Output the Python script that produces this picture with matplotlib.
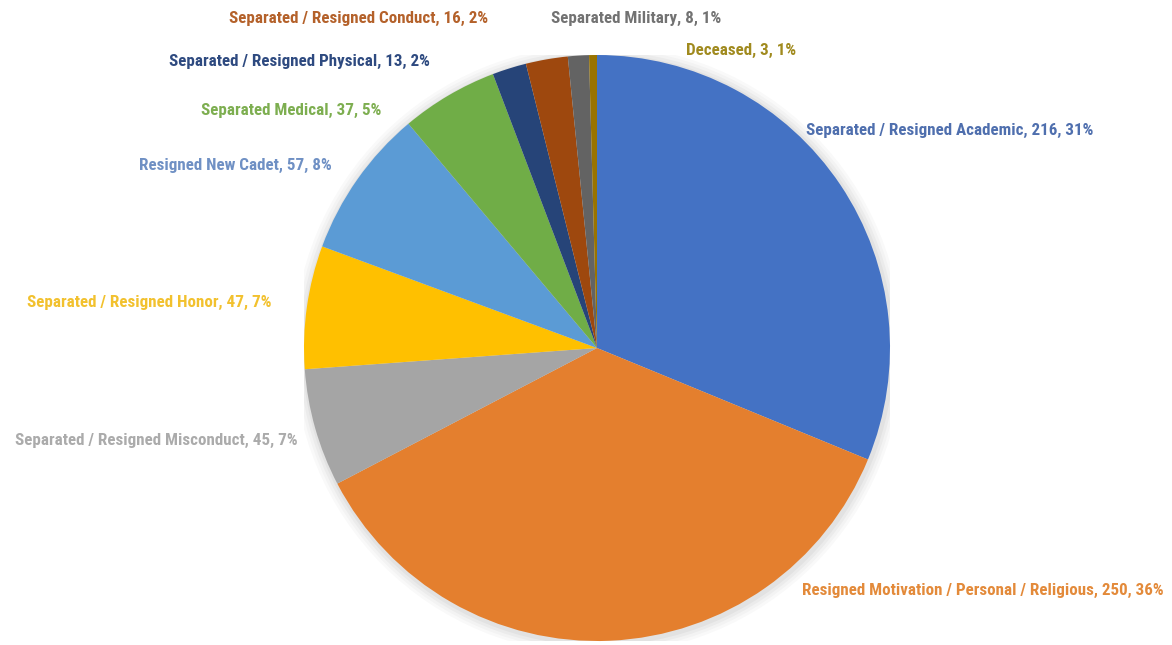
import matplotlib
matplotlib.use("Agg")
import matplotlib.pyplot as plt
from matplotlib import font_manager
from matplotlib.patches import Circle

categories = [
    "Separated / Resigned Academic",
    "Resigned Motivation / Personal / Religious",
    "Separated / Resigned Misconduct",
    "Separated / Resigned Honor",
    "Resigned New Cadet",
    "Separated Medical",
    "Separated / Resigned Physical",
    "Separated / Resigned Conduct",
    "Separated Military",
    "Deceased",
]
counts = [216, 250, 45, 47, 57, 37, 13, 16, 8, 3]
percent_labels = ["31%", "36%", "7%", "7%", "8%", "5%", "2%", "2%", "1%", "1%"]

slice_colors = ["#4472C4", "#E47F2E", "#A5A5A5", "#FFC000", "#5B9BD5",
                "#70AD47", "#264478", "#9E480E", "#636363", "#997300"]
label_colors = ["#4F6FAE", "#E38A3A", "#ABABAB", "#F2C12E", "#6F90C4",
                "#7DAE50", "#2E4A80", "#B4612A", "#727272", "#A08A1E"]
# label centres in pixel coordinates (x from left, y from top)
label_pos = [(950, 130), (983, 590), (156, 440), (149, 302), (235, 165),
             (291, 110), (299, 61), (359, 18), (636, 18), (741, 50)]

W, H = 1172, 645
fig = plt.figure(figsize=(W / 100, H / 100), dpi=100)
fig.patch.set_facecolor("white")

cx, cy, r = 597, 348, 293
ax = fig.add_axes([(cx - r) / W, (H - cy - r) / H, 2 * r / W, 2 * r / H])
ax.set_xlim(-1, 1)
ax.set_ylim(-1, 1)
ax.set_aspect("equal")
ax.axis("off")

# soft shadow behind the pie
for i, a in enumerate([0.025, 0.025, 0.03, 0.035]):
    ax.add_patch(Circle((0.004, -0.006), 1.0 + 0.01 * (4 - i), color="black",
                        alpha=a, lw=0, zorder=0))

ax.pie(counts, colors=slice_colors, startangle=90, counterclock=False,
       radius=1.0, wedgeprops=dict(linewidth=0, zorder=2))
ax.set_xlim(-1, 1)
ax.set_ylim(-1, 1)

names = {f.name for f in font_manager.fontManager.ttflist}
family = "DejaVu Sans"
for cand in ["Liberation Sans Narrow", "Arial Narrow", "Roboto Condensed",
             "Archivo Narrow", "PT Sans Narrow", "IBM Plex Sans Condensed",
             "Open Sans Condensed", "Roboto"]:
    if cand in names:
        family = cand
        break

# size the labels so a long label reads about the same width as drawn
renderer = fig.canvas.get_renderer()
probe = fig.text(0, 0, "Separated / Resigned Academic, 216, 31%", fontsize=12,
                 fontweight="bold", family=family)
pw = probe.get_window_extent(renderer).width
probe.remove()
fsize = 12 * 288 / pw

for cat, n, p, c, (x, y) in zip(categories, counts, percent_labels, label_colors, label_pos):
    fig.text(x / W, 1 - y / H, f"{cat}, {n}, {p}", color=c, fontsize=fsize,
             fontweight="bold", family=family, ha="center", va="center")

fig.savefig("out.png", dpi=100, facecolor="white")
